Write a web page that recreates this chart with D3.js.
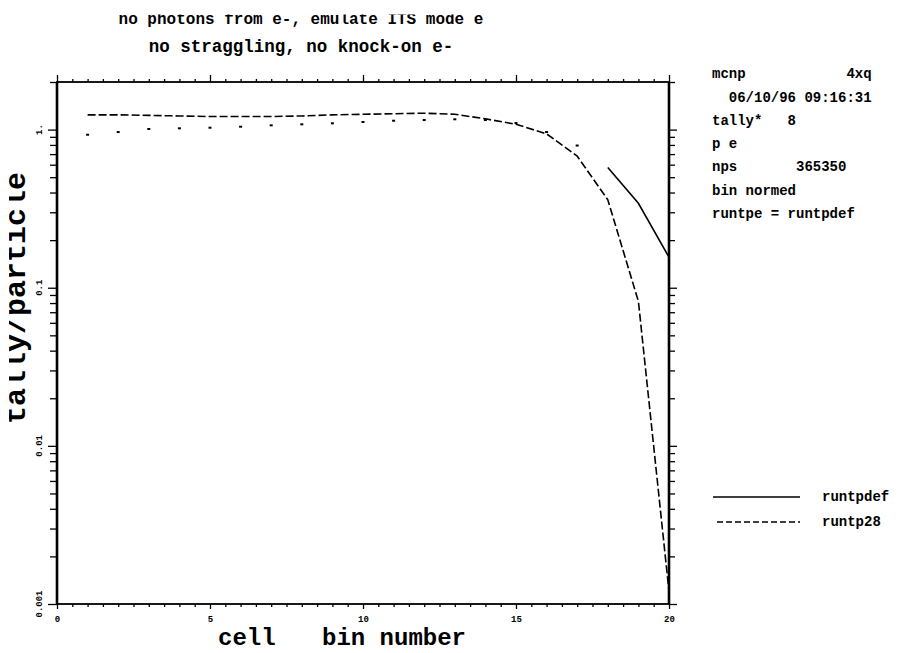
<!DOCTYPE html>
<html>
<head>
<meta charset="utf-8">
<script src="https://cdn.jsdelivr.net/npm/d3@7"></script>
<style>
  html, body { margin: 0; padding: 0; background: #fff; }
  svg { display: block; }
  text { font-family: "Liberation Mono", "DejaVu Sans Mono", monospace; font-weight: bold; fill: #000; }
</style>
</head>
<body>
<svg id="chart" width="915" height="653"></svg>
<script>
// ---- data -------------------------------------------------------------
const runtp28Bins = d3.range(1, 21);
const runtp28 = [1.24, 1.24, 1.23, 1.22, 1.21, 1.21, 1.21, 1.22, 1.24, 1.25,
                 1.26, 1.27, 1.25, 1.17, 1.08, 0.94, 0.68, 0.36, 0.082, 0.0012];
const runtpdefBins = [18, 19, 20];
const runtpdef = [0.576, 0.342, 0.156];
const pointBins = d3.range(1, 18);
const pointValues = [0.928, 0.965, 1.009, 1.019, 1.028, 1.043, 1.064, 1.080, 1.096,
                     1.117, 1.138, 1.150, 1.162, 1.150, 1.10, 0.965, 0.793];
const xMajorTicks = [0, 5, 10, 15, 20];
const xTickLabels = ["0", "5", "10", "15", "20"];
const yMajorTicks = [0.001, 0.01, 0.1, 1];
const yTickLabels = ["0.001", "0.01", "0.1", "1."];
const titleLines = ["no photons from e-, emulate ITS mode e", "no straggling, no knock-on e-"];
const infoLines = ["mcnp            4xq", "  06/10/96 09:16:31", "tally*   8", "p e",
                   "nps       365350", "bin normed", "runtpe = runtpdef"];
const legendNames = ["runtpdef", "runtp28"];

// ---- layout -----------------------------------------------------------
const svg = d3.select("#chart");
const plot = { left: 57, right: 669, top: 82, bottom: 604 };
const x = d3.scaleLinear().domain([0, 20]).range([plot.left, plot.right]);
const y = d3.scaleLog().domain([0.001, 2]).range([plot.bottom, plot.top]);

const defs = svg.append("defs");
defs.append("clipPath").attr("id", "clipTitle")
  .append("rect").attr("x", 0).attr("y", 14.5).attr("width", 915).attr("height", 60);
defs.append("clipPath").attr("id", "clipYTitle")
  .append("rect").attr("x", 9).attr("y", 0).attr("width", 60).attr("height", 653);

// ---- titles -----------------------------------------------------------
const titleY = [24, 52];
const titleSize = [16, 17.5];
svg.append("g").selectAll("text").data(titleLines).join("text")
  .attr("x", 301).attr("y", (d, i) => titleY[i])
  .attr("text-anchor", "middle").attr("font-size", (d, i) => titleSize[i])
  .attr("clip-path", (d, i) => i === 0 ? "url(#clipTitle)" : null)
  .text(d => d);

// ---- ticks ------------------------------------------------------------
const xMinor = d3.range(0, 20.001, 0.5).filter(v => !xMajorTicks.includes(v));
const yAll = y.ticks();
const yMinor = yAll.filter(v => !yMajorTicks.some(m => Math.abs(m - v) < 1e-12));

function styleAxis(g) {
  g.select(".domain").remove();
  g.selectAll(".tick line").attr("stroke", "#000").attr("stroke-width", 1.3);
}

svg.append("g").attr("transform", `translate(0,${plot.bottom})`)
  .call(d3.axisBottom(x).tickValues(xMinor).tickSize(3).tickFormat("")).call(styleAxis);
svg.append("g").attr("transform", `translate(0,${plot.bottom})`)
  .call(d3.axisBottom(x).tickValues(xMajorTicks).tickSize(5).tickPadding(7)
    .tickFormat((d, i) => xTickLabels[i]))
  .call(styleAxis)
  .selectAll("text").attr("font-size", 9).attr("font-family", null);

svg.append("g").attr("transform", `translate(0,${plot.top})`)
  .call(d3.axisTop(x).tickValues(xMinor).tickSize(3).tickFormat("")).call(styleAxis);
svg.append("g").attr("transform", `translate(0,${plot.top})`)
  .call(d3.axisTop(x).tickValues(xMajorTicks).tickSize(7).tickFormat("")).call(styleAxis);

svg.append("g").attr("transform", `translate(${plot.left},0)`)
  .call(d3.axisLeft(y).tickValues(yMinor).tickSize(7).tickFormat("")).call(styleAxis);
svg.append("g").attr("transform", `translate(${plot.left},0)`)
  .call(d3.axisLeft(y).tickValues(yMajorTicks).tickSize(9).tickFormat("")).call(styleAxis);

svg.append("g").attr("transform", `translate(${plot.right},0)`)
  .call(d3.axisRight(y).tickValues(yMinor).tickSize(6).tickFormat("")).call(styleAxis);
svg.append("g").attr("transform", `translate(${plot.right},0)`)
  .call(d3.axisRight(y).tickValues(yMajorTicks).tickSize(8).tickFormat("")).call(styleAxis);

// rotated y tick labels
svg.append("g").selectAll("text").data(yMajorTicks).join("text")
  .attr("transform", d => `translate(42,${y(d)}) rotate(-90)`)
  .attr("text-anchor", "middle").attr("font-size", 9)
  .text((d, i) => yTickLabels[i]);

// plot frame (left and right edges drawn heavier)
svg.append("rect")
  .attr("x", plot.left).attr("y", plot.top)
  .attr("width", plot.right - plot.left).attr("height", plot.bottom - plot.top)
  .attr("fill", "none").attr("stroke", "#000").attr("stroke-width", 1.8);
svg.append("g").selectAll("line").data([plot.left, plot.right]).join("line")
  .attr("x1", d => d).attr("x2", d => d).attr("y1", plot.top).attr("y2", plot.bottom)
  .attr("stroke", "#000").attr("stroke-width", 2.6);

// ---- axis titles ------------------------------------------------------
svg.append("text").attr("x", 218).attr("y", 645).attr("font-size", 24).text("cell");
svg.append("text").attr("x", 322).attr("y", 645).attr("font-size", 24).text("bin number");
svg.append("g").attr("clip-path", "url(#clipYTitle)")
  .append("text")
  .attr("transform", "translate(25,298) rotate(-90)")
  .attr("text-anchor", "middle").attr("font-size", 30)
  .text("tally/particle");

// ---- series -----------------------------------------------------------
const line = d3.line().x(d => x(d[0])).y(d => y(d[1]));

svg.append("path")
  .datum(runtp28Bins.map((b, i) => [b, runtp28[i]]))
  .attr("d", line).attr("fill", "none").attr("stroke", "#000")
  .attr("stroke-width", 1.6).attr("stroke-dasharray", "8,3");

svg.append("path")
  .datum(runtpdefBins.map((b, i) => [b, runtpdef[i]]))
  .attr("d", line).attr("fill", "none").attr("stroke", "#000")
  .attr("stroke-width", 1.6);

svg.append("g").selectAll("rect").data(pointBins.map((b, i) => [b, pointValues[i]])).join("rect")
  .attr("x", d => x(d[0]) - 1.5).attr("y", d => y(d[1]) - 1)
  .attr("width", 3).attr("height", 2).attr("fill", "#000");

// ---- info block -------------------------------------------------------
const infoY = [78, 102, 125, 148, 171, 195, 218];
svg.append("g").selectAll("text").data(infoLines).join("text")
  .attr("x", 712).attr("y", (d, i) => infoY[i])
  .attr("font-size", 14).attr("xml:space", "preserve")
  .style("white-space", "pre")
  .text(d => d);

// ---- legend -----------------------------------------------------------
const legendY = [497, 522];
const legend = svg.append("g");
legend.append("line").attr("x1", 713).attr("x2", 800).attr("y1", legendY[0]).attr("y2", legendY[0])
  .attr("stroke", "#000").attr("stroke-width", 1.6);
legend.append("line").attr("x1", 717).attr("x2", 800).attr("y1", legendY[1]).attr("y2", legendY[1])
  .attr("stroke", "#000").attr("stroke-width", 1.6).attr("stroke-dasharray", "6,3");
legend.selectAll("text").data(legendNames).join("text")
  .attr("x", 822).attr("y", (d, i) => legendY[i] + 4)
  .attr("font-size", 14).text(d => d);
</script>
</body>
</html>
